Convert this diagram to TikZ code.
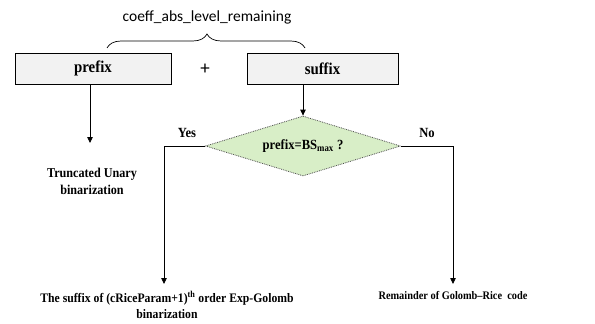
\documentclass[tikz,border=0pt]{standalone}
\usepackage{fontspec}
\setmainfont{Liberation Serif}[FakeStretch=0.9]
\newfontfamily\titlefont{Carlito}
\usetikzlibrary{shapes.geometric,arrows.meta,decorations.pathreplacing}
\begin{document}
\begin{tikzpicture}[x=1pt,y=-1pt,
  field/.style={draw=black,line width=0.7pt,fill=black!5,minimum width=156pt,minimum height=31pt,inner sep=0pt,font=\fontsize{16.5}{18}\selectfont\bfseries},
  test/.style={diamond,draw=black!70,densely dotted,line width=0.8pt,fill=green!40!olive!22,minimum width=195pt,minimum height=60pt,aspect=3.25,inner sep=0pt,font=\fontsize{14}{16}\selectfont\bfseries},
  label/.style={font=\fontsize{13}{16}\selectfont\bfseries,align=center,inner sep=0pt},
  flow/.style={draw=black,line width=0.8pt,-{Triangle[length=6pt,width=5.5pt]}},
  conn/.style={draw=black,line width=0.8pt}]
\useasboundingbox (0,0) rectangle (595,324);
\fill[white] (0,0) rectangle (595,324);

% syntax element split into prefix and suffix
\node[font=\titlefont\fontsize{15.5}{18}\selectfont] (title) at (207,17) {coeff\_abs\_level\_remaining};
\node[field] (prefix) at (93,68.5) {prefix};
\node[font=\titlefont\fontsize{19}{21}\selectfont] (plus) at (205,69) {+};
\node[field,minimum width=151pt] (suffix) at (322.5,68.5) {suffix};
\coordinate (braceL) at (107,48);
\coordinate (braceR) at (305,48);
\draw[line width=0.7pt,decorate,decoration={brace,amplitude=14pt,aspect=0.505}] (braceL) -- (braceR);

% prefix binarization
\node[label,font=\fontsize{13.5}{17}\selectfont\bfseries] (tu) at (92,181) {Truncated Unary\\binarization};
\coordinate (prefixArrow) at (90,84);
\draw[flow] (prefixArrow) -- (90,143);

% suffix decision
\node[test] (cond) at (303,146) {prefix=BS\textsubscript{max} ?};
\coordinate (suffixOut) at (303,84);
\draw[flow] (suffixOut) -- (cond.north);
\node[label,font=\fontsize{14}{16}\selectfont\bfseries] (yes) at (187,133) {Yes};
\node[label,font=\fontsize{14}{16}\selectfont\bfseries] (no) at (427,133) {No};

\node[label] (eg) at (167,305) {The suffix of (cRiceParam+1)\textsuperscript{th} order Exp-Golomb\\binarization};
\node[label,font=\fontsize{11.5}{14}\selectfont\bfseries,anchor=north] (gr) at (453,291) {Remainder of Golomb--Rice\ \ code};
\coordinate (yesCorner) at (164,146);
\coordinate (noCorner) at (453,146);
\draw[conn] (cond.west) -- (yesCorner);
\draw[flow] (yesCorner) -- (164,284);
\draw[conn] (cond.east) -- (noCorner);
\draw[flow] (noCorner) -- (453,284);
\end{tikzpicture}
\end{document}
